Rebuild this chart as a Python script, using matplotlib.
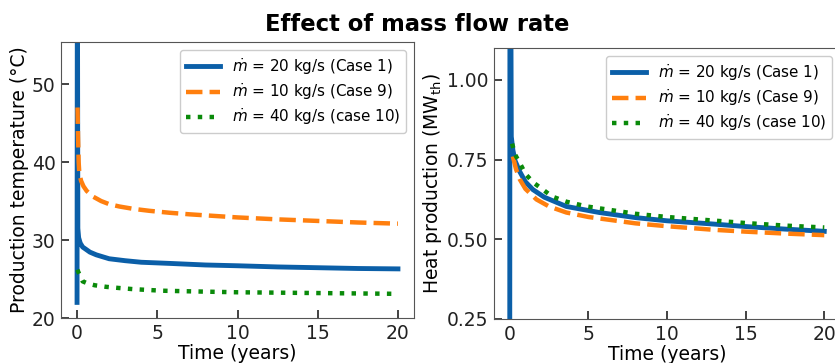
import matplotlib
matplotlib.use('Agg')
import matplotlib.pyplot as plt

plt.rcParams.update({
    'font.family': 'DejaVu Sans',
    'font.size': 13.5,
    'xtick.direction': 'in',
    'ytick.direction': 'in',
    'xtick.major.size': 6,
    'ytick.major.size': 6,
    'xtick.major.width': 1.2,
    'ytick.major.width': 1.2,
})

# Production temperature (°C) vs time (years)
t_case1 = [0.0, 0.02, 0.05, 0.1, 0.2, 0.35, 0.56, 0.8, 1.2, 2.0, 3.0, 4.0, 5.8, 8, 10, 12.5, 15, 17.5, 20]
temp_case1 = [22.0, 70.0, 31.5, 30.3, 29.6, 29.1, 28.8, 28.45, 28.1, 27.6, 27.35, 27.15, 27.0, 26.8, 26.7, 26.55, 26.45, 26.35, 26.3]

t_case9 = [0.03, 0.06, 0.1, 0.14, 0.25, 0.4, 0.6, 0.97, 1.5, 2.0, 2.64, 3.5, 4.5, 5.76, 7, 8.5, 10, 12.5, 15, 17.5, 20]
temp_case9 = [47.0, 43.5, 40.0, 38.6, 37.6, 36.9, 36.3, 35.6, 35.0, 34.6, 34.3, 34.0, 33.75, 33.5, 33.3, 33.1, 32.9, 32.65, 32.45, 32.25, 32.1]

t_case10 = [0.02, 0.1, 0.35, 0.7, 1.1, 1.8, 2.6, 3.5, 5.3, 7.5, 10, 12.5, 15, 17.5, 20]
temp_case10 = [26.2, 25.8, 24.7, 24.4, 24.2, 24.0, 23.85, 23.7, 23.5, 23.4, 23.3, 23.25, 23.2, 23.15, 23.1]

# Heat production (MW_th) vs time (years)
t_heat1 = [0.0, 0.02, 0.1, 0.2, 0.35, 0.64, 1.0, 1.47, 2.2, 3.6, 5.7, 8, 10, 12.9, 15, 17.5, 20]
heat_case1 = [0.0, 2.0, 0.822, 0.78, 0.745, 0.712, 0.68, 0.656, 0.632, 0.603, 0.584, 0.568, 0.558, 0.548, 0.540, 0.532, 0.525]

t_heat9 = [0.2, 0.4, 0.64, 1.0, 1.7, 2.5, 3.6, 5, 6.2, 8, 10, 12.9, 15, 17.5, 20]
heat_case9 = [0.76, 0.72, 0.688, 0.658, 0.625, 0.603, 0.584, 0.570, 0.562, 0.550, 0.541, 0.530, 0.524, 0.518, 0.513]

t_heat10 = [0.15, 0.35, 0.76, 1.0, 1.5, 2.0, 2.7, 3.6, 4.9, 6.4, 8, 10, 12.9, 15, 17.5, 20]
heat_case10 = [0.80, 0.765, 0.728, 0.705, 0.678, 0.66, 0.634, 0.618, 0.603, 0.592, 0.580, 0.570, 0.559, 0.551, 0.543, 0.537]

labels = [r'$\dot{m}$ = 20 kg/s (Case 1)',
          r'$\dot{m}$ = 10 kg/s (Case 9)',
          r'$\dot{m}$ = 40 kg/s (case 10)']

blue = '#0b5fa8'
orange = '#ff7f0e'
green = '#0a8a0a'

fig = plt.figure(figsize=(8.35, 3.63), dpi=100)
W, H = 835, 363
ax1 = fig.add_axes([61 / W, (H - 318) / H, 353 / W, 276 / H])
ax2 = fig.add_axes([494 / W, (H - 319) / H, 346 / W, 271 / H])

ax1.plot(t_case1, temp_case1, color=blue, lw=3.5, label=labels[0])
ax1.plot(t_case9, temp_case9, color=orange, lw=3.2, ls='--', label=labels[1])
ax1.plot(t_case10, temp_case10, color=green, lw=3.2, ls=':', label=labels[2])
ax1.set_xlim(-1, 21)
ax1.set_ylim(20, 55.4)
ax1.set_yticks([20, 30, 40, 50])
ax1.set_xticks([0, 5, 10, 15, 20])
ax1.set_xlabel('Time (years)', labelpad=1)
ax1.set_ylabel('Production temperature (°C)', labelpad=2)

ax2.plot(t_heat1, heat_case1, color=blue, lw=3.5, label=labels[0])
ax2.plot(t_heat9, heat_case9, color=orange, lw=3.2, ls='--', label=labels[1])
ax2.plot(t_heat10, heat_case10, color=green, lw=3.2, ls=':', label=labels[2])
ax2.set_xlim(-1, 21)
ax2.set_ylim(0.25, 1.1)
ax2.set_yticks([0.25, 0.5, 0.75, 1.0])
ax2.set_yticklabels(['0.25', '0.50', '0.75', '1.00'])
ax2.set_xticks([0, 5, 10, 15, 20])
ax2.set_xlabel('Time (years)', labelpad=1)
ax2.set_ylabel(r'Heat production (MW$_{\mathrm{th}}$)', labelpad=2)

for ax in (ax1, ax2):
    for sp in ax.spines.values():
        sp.set_color('#555555')
    ax.tick_params(colors='#222222', pad=4)
    ax.legend(loc='upper right', fontsize=10.9, handlelength=2.2,
              labelspacing=0.3, handletextpad=0.8, framealpha=1)

fig.suptitle('Effect of mass flow rate', fontsize=16.3, fontweight='bold', y=0.965)

fig.savefig('out.png', dpi=100)
